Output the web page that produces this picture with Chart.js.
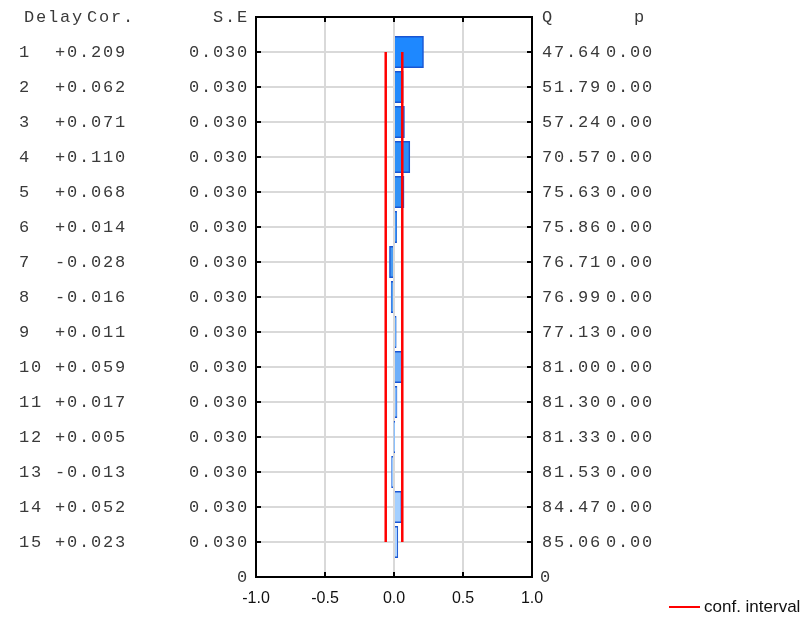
<!DOCTYPE html>
<html>
<head>
<meta charset="utf-8">
<script src="https://cdn.jsdelivr.net/npm/chart.js@4"></script>
<style>
  body { margin: 0; background: #fff; }
  #wrap { width: 806px; height: 619px; }
</style>
</head>
<body>
<div id="wrap"><canvas id="acfChart" width="806" height="619"></canvas></div>
<script>
// autocorrelation table
const delays = [1, 2, 3, 4, 5, 6, 7, 8, 9, 10, 11, 12, 13, 14, 15];
const corr = [0.209, 0.062, 0.071, 0.110, 0.068, 0.014, -0.028, -0.016, 0.011, 0.059, 0.017, 0.005, -0.013, 0.052, 0.023];
const stdErr = [0.030, 0.030, 0.030, 0.030, 0.030, 0.030, 0.030, 0.030, 0.030, 0.030, 0.030, 0.030, 0.030, 0.030, 0.030];
const qStat = [47.64, 51.79, 57.24, 70.57, 75.63, 75.86, 76.71, 76.99, 77.13, 81.00, 81.30, 81.33, 81.53, 84.47, 85.06];
const pVal = [0.00, 0.00, 0.00, 0.00, 0.00, 0.00, 0.00, 0.00, 0.00, 0.00, 0.00, 0.00, 0.00, 0.00, 0.00];
const confLimit = [-0.06, 0.06];
const xTicks = [-1.0, -0.5, 0.0, 0.5, 1.0];

// bars fade from deep blue to pale blue going down the list
const barColors = [
  'rgb(30,136,255)', 'rgb(34,138,252)', 'rgb(38,140,250)', 'rgb(44,143,248)', 'rgb(50,146,246)',
  'rgb(60,150,245)', 'rgb(72,155,242)', 'rgb(84,160,243)', 'rgb(96,166,246)', 'rgb(110,175,250)',
  'rgb(124,184,252)', 'rgb(138,193,253)', 'rgb(150,200,255)', 'rgb(163,207,255)', 'rgb(174,212,255)'
];

const MONO = '"Liberation Mono", "Courier New", monospace';

const tablePlugin = {
  id: 'tablePlugin',
  afterDraw(chart) {
    const ctx = chart.ctx;
    const y = chart.scales.y;
    const x = chart.scales.x;
    const a = chart.chartArea;

    ctx.save();
    // inner tick marks
    ctx.strokeStyle = '#000';
    ctx.lineWidth = 2;
    ctx.beginPath();
    delays.forEach(d => {
      const py = Math.round(y.getPixelForValue(d));
      ctx.moveTo(a.left, py); ctx.lineTo(a.left + 5, py);
      ctx.moveTo(a.right, py); ctx.lineTo(a.right - 5, py);
    });
    xTicks.slice(1, -1).forEach(v => {
      const px = Math.round(x.getPixelForValue(v));
      ctx.moveTo(px, a.bottom); ctx.lineTo(px, a.bottom - 5);
      ctx.moveTo(px, a.top); ctx.lineTo(px, a.top + 5);
    });
    ctx.stroke();
    // frame
    ctx.strokeRect(a.left, a.top, a.right - a.left, a.bottom - a.top);

    // side columns
    ctx.fillStyle = '#3a3a3a';
    ctx.font = '17px ' + MONO;
    ctx.letterSpacing = '1.8px';
    ctx.textBaseline = 'middle';
    const top = y.getPixelForValue(0);
    const bot = y.getPixelForValue(16);

    ctx.textAlign = 'left';
    ctx.fillText('Delay', 24, top);
    ctx.fillText('Cor.', 87, top);
    ctx.fillText('Q', 542, top);
    ctx.fillText('p', 634, top);
    ctx.fillText('0', 540, bot);
    ctx.textAlign = 'right';
    ctx.fillText('S.E', 249, top);
    ctx.fillText('0', 249, bot);

    delays.forEach((d, i) => {
      const py = y.getPixelForValue(d);
      ctx.textAlign = 'left';
      ctx.fillText(String(d), 19, py);
      ctx.fillText((corr[i] >= 0 ? '+' : '-') + Math.abs(corr[i]).toFixed(3), 55, py);
      ctx.fillText(qStat[i].toFixed(2), 542, py);
      ctx.fillText(pVal[i].toFixed(2), 606, py);
      ctx.textAlign = 'right';
      ctx.fillText(stdErr[i].toFixed(3), 249, py);
    });

    // legend
    ctx.letterSpacing = '0px';
    ctx.strokeStyle = '#ff0000';
    ctx.beginPath();
    ctx.moveTo(669, 607); ctx.lineTo(700, 607);
    ctx.stroke();
    ctx.fillStyle = '#111';
    ctx.font = '17px "Liberation Sans", Arial, sans-serif';
    ctx.textAlign = 'left';
    ctx.fillText('conf. interval', 704, 607);
    ctx.restore();
  }
};

const confSets = confLimit.map(v => ({
  type: 'line',
  indexAxis: 'y',
  data: [{ x: v, y: delays[0] }, { x: v, y: delays[delays.length - 1] }],
  borderColor: '#ff0000',
  borderWidth: 2.5,
  pointRadius: 0,
  fill: false,
  order: 0
}));

new Chart(document.getElementById('acfChart'), {
  type: 'bar',
  data: {
    datasets: [{
      label: 'Cor.',
      data: delays.map((d, i) => ({ x: corr[i], y: d })),
      backgroundColor: barColors,
      borderColor: 'rgb(25,85,210)',
      borderWidth: 1.5,
      inflateAmount: 1,
      barThickness: 30,
      order: 1
    }, ...confSets]
  },
  options: {
    indexAxis: 'y',
    responsive: false,
    animation: false,
    layout: { padding: { top: 17, right: 274, left: 0, bottom: 0 } },
    plugins: { legend: { display: false }, tooltip: { enabled: false } },
    scales: {
      x: {
        type: 'linear',
        min: -1,
        max: 1,
        afterBuildTicks(scale) { scale.ticks = xTicks.map(v => ({ value: v })); },
        afterFit(scale) { scale.height = 42; },
        grid: { color: '#d9d9d9', lineWidth: 2, drawTicks: false },
        border: { display: false },
        ticks: {
          padding: 12,
          color: '#111',
          font: { family: '"Liberation Sans", Arial, sans-serif', size: 16 },
          callback: v => Number(v).toFixed(1)
        }
      },
      y: {
        type: 'linear',
        reverse: true,
        offset: false,
        min: 0,
        max: 16,
        afterBuildTicks(scale) { scale.ticks = delays.map(v => ({ value: v })); },
        afterFit(scale) { scale.width = 256; },
        grid: { color: '#d9d9d9', lineWidth: 2, drawTicks: false, offset: false },
        border: { display: false },
        ticks: { display: false }
      }
    }
  },
  plugins: [tablePlugin]
});
</script>
</body>
</html>
